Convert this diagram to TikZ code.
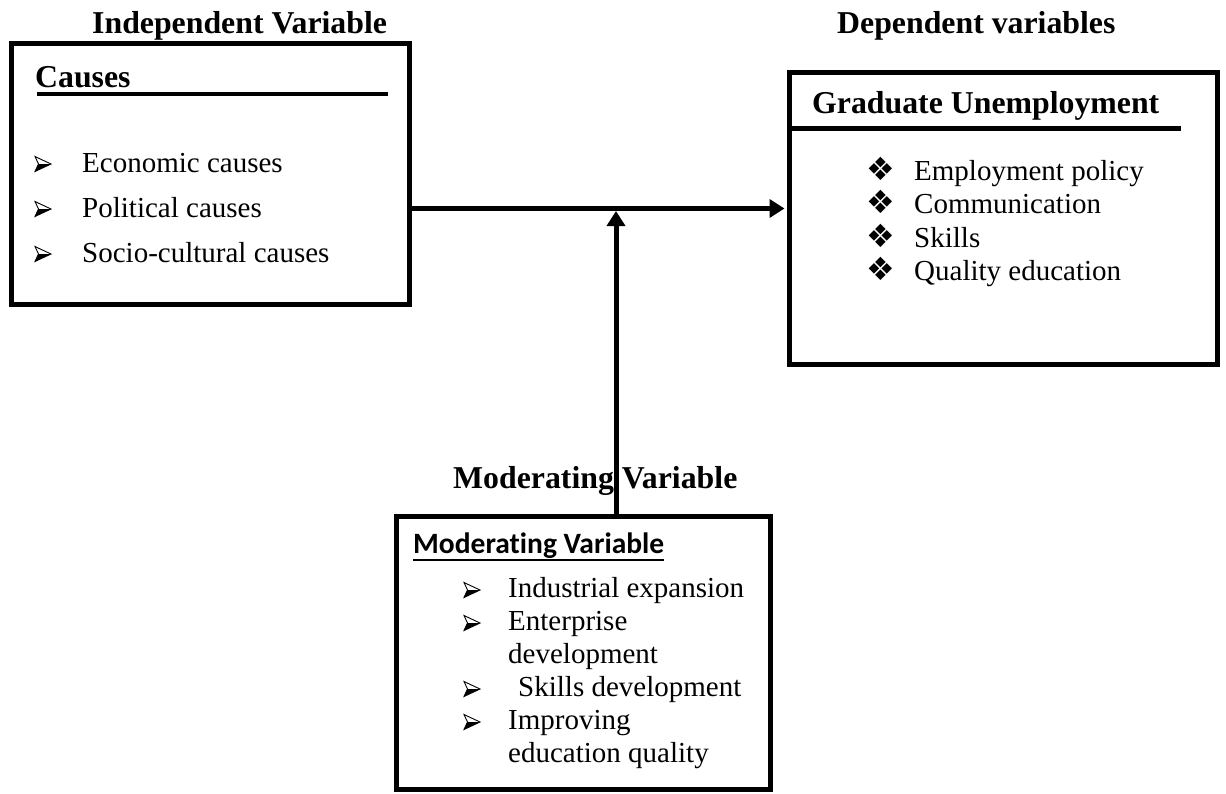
\documentclass[tikz,border=0pt]{standalone}
\usepackage{fontspec}
\setmainfont{Liberation Serif}
\newfontfamily\calib[Ligatures=NoCommon]{Carlito}
\newfontfamily\dv{DejaVu Sans}
\usetikzlibrary{arrows.meta}
\begin{document}
\begin{tikzpicture}[x=1pt,y=-1pt,
  box/.style={draw, line width=5pt, rectangle, inner sep=0pt},
  conn/.style={line width=5pt, -{Triangle[length=15pt,width=18pt]}},
  rule/.style={line width=4.5pt},
  hdr/.style={anchor=base west, inner sep=0pt, font=\fontsize{31.8}{38}\selectfont\bfseries},
  body/.style={anchor=base west, inner sep=0pt, font=\fontsize{29}{33}\selectfont},
  dia/.style={anchor=base west, inner sep=0pt, font=\dv\fontsize{32}{34}\selectfont},
  mtitle/.style={anchor=base west, inner sep=0pt, font=\calib\bfseries\fontsize{29.5}{32}\selectfont},
  abullet/.pic={
    \fill[black] (3.5,0) -- (16,0) -- (0,7.5) -- cycle;
    \draw[line width=0.9pt, line join=miter] (0,-7.5) -- (16,0) -- (0,7.5) -- (3.5,0) -- cycle;
  }
]
\useasboundingbox (0,0) rectangle (1226,793);

% boxes
\node[box, minimum width=398pt, minimum height=261pt] (L) at (210,173.5) {};
\node[box, minimum width=427.5pt, minimum height=292pt] (R) at (1003.25,218.5) {};
\node[box, minimum width=374.5pt, minimum height=273.5pt] (M) at (583.25,652.75) {};

% top headers
\node[hdr] (hI) at (92,33) {Independent Variable};
\node[hdr] (hD) at (837,33) {Dependent variables};
\node[hdr] (hM) at (453,488) {Moderating Variable};

% left box
\node[hdr] (tC) at (35,87) {Causes};
\draw[rule] (37,94) -- (388,94);
\pic at (35,164) {abullet};
\node[body] (l1) at (82,172) {Economic causes};
\pic at (35,209) {abullet};
\node[body] (l2) at (82,217) {Political causes};
\pic at (35,254) {abullet};
\node[body] (l3) at (82,262) {Socio-cultural causes};

% right box
\node[hdr] (tG) at (812,113) {Graduate Unemployment};
\draw[line width=5pt] (792,128) -- (1181,128);
\node[dia] (d1) at (866,180) {❖};
\node[body] (r1) at (914,180) {Employment policy};
\node[dia] (d2) at (866,213) {❖};
\node[body] (r2) at (914,213) {Communication};
\node[dia] (d3) at (866,247) {❖};
\node[body] (r3) at (914,247) {Skills};
\node[dia] (d4) at (866,280) {❖};
\node[body] (r4) at (914,280) {Quality education};

% moderating box
\node[mtitle] (tM) at (413,553) {Moderating Variable};
\draw[line width=2pt] (413,560) -- (tM.base east |- 0,560);
\pic at (464,590) {abullet};
\node[body] (b1) at (508,597) {Industrial expansion};
\pic at (464,623) {abullet};
\node[body] (b2) at (508,630) {Enterprise};
\node[body] (b2b) at (508,663) {development};
\pic at (464,689) {abullet};
\node[body] (b3) at (518,696) {Skills development};
\pic at (464,722) {abullet};
\node[body] (b4) at (508,729) {Improving};
\node[body] (b4b) at (508,762) {education quality};

% connectors
\coordinate (hy) at (0,208.5);
\coordinate (vx) at (616,0);
\coordinate (meet) at (616,211);
\draw[conn] (L.east |- hy) -- ([xshift=-2.5pt]R.west |- hy);
\draw[conn] (M.north -| vx) -- (meet);
\end{tikzpicture}
\end{document}
